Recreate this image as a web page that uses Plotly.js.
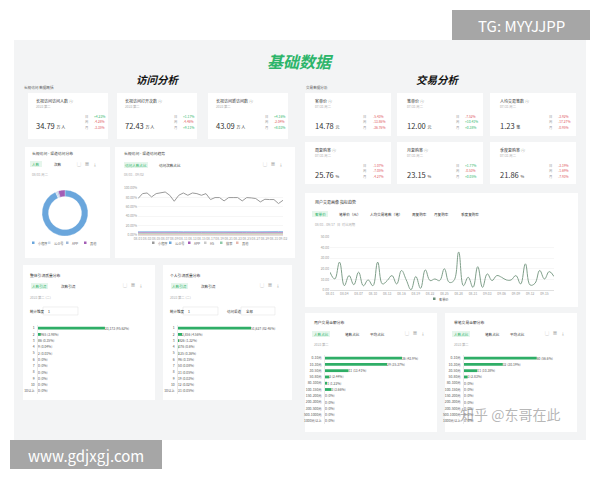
<!DOCTYPE html>
<html><head><meta charset="utf-8">
<script src="https://cdn.plot.ly/plotly-3.0.1.min.js"></script>
<style>body{margin:0;background:#fff}#chart{width:600px;height:480px}</style>
</head><body><div id="chart"></div>
<script>
// ---------- data ----------
const visitKpiNames = ["长视访问访问人数", "长视访问打开次数", "长视访问新访问数"];
const visitKpiValues = ["34.79", "72.43", "43.09"];
const visitKpiChanges = [["+4.23%", "-4.28%", "-3.35%"], ["+1.17%", "-4.46%", "+9.11%"], ["+4.16%", "-2.04%", "+8.03%"]];

const tradeKpiNames = ["客单价", "笔单价", "人均交易笔数", "周复购率", "月复购率", "季度复购率"];
const tradeKpiValues = ["14.78", "12.00", "1.23", "25.76", "23.15", "21.86"];
const tradeKpiUnits = ["元", "元", "笔", "%", "%", "%"];
const tradeKpiChanges = [["-5.43%", "-13.86%", "-36.76%"], ["-7.52%", "+10.41%", "+0.38%"], ["-3.92%", "-17.27%", "-0.95%"],
                         ["-1.07%", "-7.05%", "-4.27%"], ["+1.77%", "-0.53%", "+0.05%"], ["-3.19%", "-1.69%", "-7.93%"]];
const changeLabels = ["日", "周", "月"];

const donutLabels = ["小程序", "公众号", "APP", "其他"];
const donutValues = [93.2, 1.2, 0.9, 4.7];

const visitDates = ["08-01","08-02","08-03","08-04","08-05","08-06","08-07","08-08","08-09","08-10","08-11","08-12","08-13","08-14","08-15","08-16","08-17","08-18","08-19","08-20","08-21","08-22","08-23","08-24","08-25","08-26","08-27","08-28","08-29","08-30","08-31","09-01","09-02"];
const visitSeriesNames = ["小程序", "公众号", "APP", "H5", "搜索", "其他"];
const visitShare1 = [77.5,88,89.4,81,88,89.4,91.5,84.5,71.8,84.5,89.4,84.5,89.4,88,84.5,88,75.4,79.6,79.6,72.5,79.6,79.6,79.6,72.5,79.6,78.9,77.5,70.4,76,75.4,75.4,66.9,73.9];
const visitShare2 = [7,7.2,7.1,7,7.3,7.2,7,7.1,7.4,7.2,7,7.1,7,7.2,7.1,7,7.3,7.2,7.1,7.4,7.2,7.1,7,7.3,7.2,7.1,7,7.4,7.2,7.1,7.2,7.5,7.3];
const visitShare3 = [5,5.1,5,5.2,5,5.1,5,5.2,5.3,5.1,5,5.1,5,5,5.1,5,5.2,5.1,5.1,5.3,5.1,5.1,5,5.2,5.1,5,5,5.3,5.1,5.1,5.1,5.4,5.2];
const visitShare4 = [3.5,3.6,3.5,3.6,3.5,3.5,3.4,3.6,3.7,3.5,3.5,3.6,3.5,3.5,3.6,3.5,3.6,3.5,3.6,3.7,3.5,3.6,3.5,3.6,3.5,3.5,3.6,3.7,3.6,3.5,3.6,3.8,3.6];
const visitShare5 = [2.4,2.5,2.4,2.5,2.4,2.4,2.5,2.5,2.6,2.4,2.4,2.5,2.4,2.4,2.5,2.4,2.5,2.4,2.5,2.6,2.4,2.5,2.4,2.5,2.4,2.4,2.5,2.6,2.5,2.4,2.5,2.7,2.5];
const visitShare6 = [1.2,1.3,1.2,1.2,1.3,1.2,1.2,1.3,1.4,1.2,1.2,1.3,1.2,1.2,1.3,1.2,1.3,1.2,1.3,1.4,1.2,1.3,1.2,1.3,1.2,1.2,1.3,1.4,1.3,1.2,1.3,1.5,1.3];

const trendDates = ["08-01","08-02","08-03","08-04","08-05","08-06","08-07","08-08","08-09","08-10","08-11","08-12","08-13","08-14","08-15","08-16","08-17","08-18","08-19","08-20","08-21","08-22","08-23","08-24","08-25","08-26","08-27","08-28","08-29","08-30","08-31","09-01","09-02","09-03","09-04","09-05","09-06","09-07","09-08","09-09","09-10","09-11","09-12","09-13","09-14","09-15","09-16","09-17"];
const trendValues = [16.8,10.4,26.3,4.1,13.6,5.0,16.8,4.0,9.5,4.0,26.3,5.7,8.9,13.6,5.7,18.4,9.5,0.3,12.7,1.6,19.0,8.9,10.4,8.9,20.0,7.3,8.9,35.8,4.1,12.0,2.5,22.0,2.5,15.2,8.9,13.6,12.0,9.5,9.5,13.6,5.7,24.7,4.7,6.3,18.4,10.4,17.4,12.7];

const countLabels = ["1","2","3","4","5","6","7","8","9","10","10以上"];
const bar1Counts = [23173, 965, 86, 9, 2, 0, 0, 0, 0, 0, 0];
const bar1Pct = [95.62, 3.98, 0.35, 0.04, 0.01, 0, 0, 0, 0, 0, 0];
const bar2Counts = [51627, 2856, 826, 376, 225, 96, 50, 31, 19, 12, 31];
const bar2Pct = [82.46, 4.56, 1.32, 0.60, 0.36, 0.15, 0.08, 0.05, 0.03, 0.02, 0.05];

const amountLabels = ["0-10元","10-30元","30-50元","50-80元","80-100元","100-150元","150-200元","200-300元","300-500元","500-1000元","1000元以上"];
const bar3Counts = [36, 29, 11, 2, 1, 3, 0, 0, 0, 0, 0];
const bar3Pct = [43.90, 35.37, 13.41, 2.44, 1.22, 3.66, 0, 0, 0, 0, 0];
const bar4Counts = [60, 32, 11, 3, 0, 0, 0, 0, 0, 0, 0];
const bar4Pct = [56.60, 30.19, 10.38, 2.83, 0, 0, 0, 0, 0, 0, 0];

// ---------- helpers ----------
const W = 600, H = 480;
const X = p => p / W, Y = p => 1 - p / H;
const FONT = "Noto Sans CJK SC, Noto Sans, sans-serif";
const GREEN = "#2db56a", RED = "#e0555a";
const shapes = [], annotations = [];
function rect(x0, y0, x1, y1, fill, line) {
  shapes.push({type: "rect", xref: "paper", yref: "paper", layer: "below",
    x0: X(x0), x1: X(x1), y0: Y(y1), y1: Y(y0), fillcolor: fill,
    line: line ? {color: line, width: 0.6} : {width: 0}});
}
function txt(x, y, text, size, color, anchor, bold) {
  annotations.push({xref: "paper", yref: "paper", x: X(x), y: Y(y), text: bold ? "<b>" + text + "</b>" : text,
    showarrow: false, xanchor: anchor || "left", yanchor: "middle",
    font: {family: FONT, size: size, color: color || "#333"}});
}
function pill(x0, x1, y, label) {
  rect(x0, y - 3, x1, y + 3, "#e6f6ec");
  txt((x0 + x1) / 2, y, label, 3.6, GREEN, "center");
}
function icons(x, y) { ["▢", "▦", "⤓"].forEach((c, i) => txt(x + i * 8, y, c, 4, "#999", "center")); }

// ---------- static frame ----------
rect(14, 40, 586, 440, "#f3f4f5");
rect(452, 10, 590, 40, "#a6a6a6");
txt(521, 25, "TG: MYYJJPP", 15, "#ffffff", "center");
rect(10, 440, 162, 469, "#a6a6a6");
txt(86, 455, "www.gdjxgj.com", 15, "#ffffff", "center");
txt(300, 61, "<i>基础数据</i>", 16, GREEN, "center", true);
txt(158, 80, "<i>访问分析</i>", 10.5, "#111", "center", true);
txt(438, 80, "<i>交易分析</i>", 10.5, "#111", "center", true);
txt(22, 87, "长视访问 数据概括", 3.6, "#555");
txt(304, 87, "交易数据分析", 3.6, "#555");

// visit KPI cards
[28, 117, 208].forEach((x0, i) => {
  rect(x0, 93, x0 + 80, 139, "#ffffff");
  txt(x0 + 6, 101, visitKpiNames[i] + " ⓘ", 4, "#333");
  txt(x0 + 6, 106, "2023 第二", 3.3, "#aaa");
  txt(x0 + 6, 126, visitKpiValues[i] + " <span style='font-size:4px'>万 人</span>", 7.5, "#333");
  visitKpiChanges[i].forEach((c, k) => {
    txt(x0 + 58, 116 + k * 5.5, changeLabels[k], 3.3, "#999", "center");
    txt(x0 + 64, 116 + k * 5.5, c, 3.3, c[0] === "+" ? GREEN : RED);
  });
});

// trade KPI cards
[[93, 136], [142, 184]].forEach((row, r) => {
  [305, 397, 490].forEach((x0, c) => {
    const i = r * 3 + c;
    rect(x0, row[0], x0 + 86, row[1], "#ffffff");
    txt(x0 + 8, row[0] + 8, tradeKpiNames[i] + " ⓘ", 4, "#333");
    txt(x0 + 8, row[0] + 13, "07/31 周二", 3.3, "#aaa");
    txt(x0 + 8, row[0] + 32, tradeKpiValues[i] + " <span style='font-size:4px'>" + tradeKpiUnits[i] + "</span>", 7.5, "#333");
    tradeKpiChanges[i].forEach((v, k) => {
      txt(x0 + 60, row[0] + 23 + k * 5.5, changeLabels[k], 3.3, "#999", "center");
      txt(x0 + 66, row[0] + 23 + k * 5.5, v, 3.3, v[0] === "+" ? GREEN : RED);
    });
  });
});

// donut card
rect(25, 147, 110, 258, "#ffffff");
txt(30, 153, "长视访问 - 渠道访问分布", 3.8, "#333");
pill(30, 42, 164, "人数"); txt(52, 164, "次数", 3.6, "#333");
icons(79, 164);
txt(30, 174, "08/01 周二", 3.3, "#aaa");
const donutColors = ["#6aa6dc", "#c9d9ec", "#9fb8d8", "#a35db5"];
[36, 52, 70, 88].forEach((x, i) => {
  rect(x - 4, 241.5, x - 1.5, 244, donutColors[i]);
  txt(x, 243, donutLabels[i], 3.2, "#666");
});

// visit line card
rect(115, 147, 295, 258, "#ffffff");
txt(122, 153, "长视访问 - 渠道访问趋势", 3.8, "#333");
pill(124, 148, 165, "访问人数占比"); txt(157, 165, "访问次数占比", 3.6, "#333");
icons(265, 164);
txt(122, 174, "08/01 - 09/02", 3.3, "#aaa");
const visitColors = ["#9a9a9a", "#6aa6dc", "#a35db5", "#c9c9c9", "#8fc9a8", "#e6b8af"];
[156, 173, 192, 208, 224, 240].forEach((x, i) => {
  rect(x - 4, 241.5, x - 1.5, 244, visitColors[i]);
  txt(x, 243, visitSeriesNames[i], 3.2, "#666");
});

// trend card
rect(305, 193, 578, 307, "#ffffff");
txt(313, 202, "用户交易画像 指标趋势", 4, "#333");
pill(312, 328, 214, "客单价");
txt(337, 214, "笔单价（元）", 3.6, "#333");
txt(368, 214, "人均交易笔数（笔）", 3.6, "#333");
txt(410, 214, "周复购率", 3.6, "#333");
txt(432, 214, "月复购率", 3.6, "#333");
txt(459, 214, "季度复购率", 3.6, "#333");
txt(313, 224, "08/01 - 09/17   日  对比周期", 3.3, "#aaa");
rect(433, 297.5, 435.5, 300, "#6b8f78");
txt(437, 299, "客单价", 3.2, "#666");

// bar cards (count)
[[23, 155, "整体引流质量分布"], [163, 292, "个人引流质量分布"]].forEach(([x0, x1, t], i) => {
  rect(x0, 265, x1, 400, "#ffffff");
  txt(x0 + 5, 275, t, 3.8, "#333");
  pill(x0 + 8, x0 + 25, 286, "人数引流"); txt(x0 + 36, 286, "次数引流", 3.6, "#333");
  icons(x1 - 30, 285);
  txt(x0 + 5, 297, "2023 第二 (二)", 3.3, "#aaa");
  txt(x0 + 5, 311, "统计维度", 3.5, "#333");
  rect(x0 + 20, 307, x0 + 55, 315, "#ffffff", "#e5e5e5");
  txt(x0 + 23, 311, "1", 3.4, "#333");
  if (i === 1) { txt(x0 + 62, 311, "访问渠道", 3.5, "#333"); rect(x0 + 78, 307, x0 + 112, 315, "#ffffff", "#e5e5e5"); txt(x0 + 81, 311, "全部", 3.4, "#333"); }
});

// bar cards (amount)
[[305, 437, "用户交易金额分布"], [445, 577, "单笔交易金额分布"]].forEach(([x0, x1, t]) => {
  rect(x0, 313, x1, 432, "#ffffff");
  txt(x0 + 7, 322, t, 3.8, "#333");
  pill(x0 + 7, x0 + 25, 334, "人数占比"); txt(x0 + 38, 334, "笔数占比", 3.6, "#333"); txt(x0 + 63, 334, "平均占比", 3.6, "#333");
  icons(x1 - 30, 333);
  txt(x0 + 7, 344, "2023 第二", 3.3, "#aaa");
});
txt(510, 414, "知乎 @东哥在此", 14, "rgba(120,120,120,0.55)", "center");

// ---------- traces ----------
const tick = {family: FONT, size: 3.3, color: "#999"};
const visitSeries = [visitShare1, visitShare2, visitShare3, visitShare4, visitShare5, visitShare6];
const traces = [];
visitSeries.forEach((s, i) => traces.push({type: "scatter", mode: "lines", x: visitDates, y: s, name: visitSeriesNames[i],
  xaxis: "x", yaxis: "y", line: {color: visitColors[i], width: i === 0 ? 1 : 0.7}}));

traces.push({type: "pie", labels: donutLabels, values: donutValues, hole: 0.72, sort: false, direction: "clockwise",
  rotation: 0, marker: {colors: donutColors, line: {color: "#fff", width: 0.3}}, textinfo: "none",
  domain: {x: [X(42), X(88)], y: [Y(236), Y(190)]}});

traces.push({type: "scatter", mode: "lines", x: trendDates, y: trendValues, name: "客单价", xaxis: "x2", yaxis: "y2",
  line: {color: "#7f9f8a", width: 1, shape: "spline", smoothing: 1.2}});

function barTrace(cats, counts, pct, xa, ya) {
  return {type: "bar", orientation: "h", y: cats, x: pct, xaxis: xa, yaxis: ya,
    text: counts.map((c, i) => c.toLocaleString("en-US") + " (" + pct[i] + "%)"),
    textposition: "outside", constraintext: "none", cliponaxis: false,
    textfont: {family: FONT, size: 3.3, color: "#555"}, marker: {color: "#2fae67"}, width: 0.45};
}
traces.push(barTrace(countLabels, bar1Counts, bar1Pct, "x3", "y3"));
traces.push(barTrace(countLabels, bar2Counts, bar2Pct, "x4", "y4"));
traces.push(barTrace(amountLabels, bar3Counts, bar3Pct, "x5", "y5"));
traces.push(barTrace(amountLabels, bar4Counts, bar4Pct, "x6", "y6"));

const hiddenX = (d, r, a) => ({domain: [X(d[0]), X(d[1])], range: r, anchor: a, visible: false, fixedrange: true});
const barY = (d, a) => ({domain: [Y(d[1]), Y(d[0])], anchor: a, autorange: "reversed", type: "category",
  showline: true, linecolor: "#dcdcdc", linewidth: 0.6, ticks: "", tickfont: {family: FONT, size: 3.4, color: "#555"}, showgrid: false, ticklabelstandoff: 2});

const layout = {
  width: W, height: H, margin: {l: 0, r: 0, t: 0, b: 0},
  paper_bgcolor: "#ffffff", plot_bgcolor: "rgba(0,0,0,0)",
  showlegend: false, hovermode: false, shapes, annotations,
  xaxis: {domain: [X(138), X(283)], anchor: "y", type: "category", showgrid: false, showline: true, linecolor: "#ccc", linewidth: 0.6,
    ticks: "", tickfont: tick, tickangle: 0, nticks: 16},
  yaxis: {domain: [Y(235), Y(188)], anchor: "x", range: [0, 100], dtick: 20, gridcolor: "#eeeeee", gridwidth: 0.5, zeroline: false,
    tickfont: tick, ticksuffix: ".00%"},
  xaxis2: {domain: [X(330), X(554)], anchor: "y2", type: "category", showgrid: false, showline: true, linecolor: "#ccc", linewidth: 0.6,
    ticks: "", tickfont: tick, tickangle: 0, nticks: 17},
  yaxis2: {domain: [Y(290), Y(237)], anchor: "x2", range: [0, 50], dtick: 10, gridcolor: "#eeeeee", gridwidth: 0.5, zeroline: false,
    tickfont: tick, tickformat: ".2f"},
  xaxis3: hiddenX([38, 150], [0, 160], "y3"), yaxis3: barY([325, 394], "x3"),
  xaxis4: hiddenX([178, 290], [0, 126.5], "y4"), yaxis4: barY([325, 394], "x4"),
  xaxis5: hiddenX([325, 435], [0, 62.7], "y5"), yaxis5: barY([355, 424], "x5"),
  xaxis6: hiddenX([464, 575], [0, 86.4], "y6"), yaxis6: barY([355, 424], "x6")
};
Plotly.newPlot("chart", traces, layout, {staticPlot: true, displayModeBar: false});
</script></body></html>
